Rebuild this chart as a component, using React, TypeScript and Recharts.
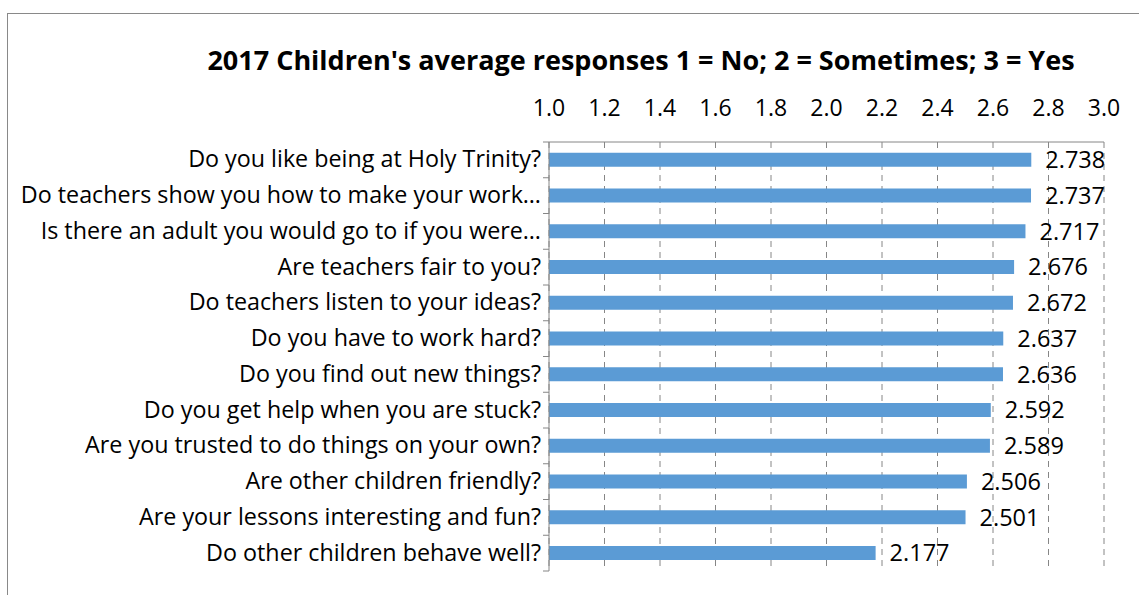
import React from 'react';
import { BarChart, Bar, XAxis, YAxis, CartesianGrid, LabelList } from 'recharts';

const questions = [
    'Do you like being at Holy Trinity?',
    'Do teachers show you how to make your work…',
    'Is there an adult you would go to if you were…',
    'Are teachers fair to you?',
    'Do teachers listen to your ideas?',
    'Do you have to work hard?',
    'Do you find out new things?',
    'Do you get help when you are stuck?',
    'Are you trusted to do things on your own?',
    'Are other children friendly?',
    'Are your lessons interesting and fun?',
    'Do other children behave well?',
];

const averages = [2.738, 2.737, 2.717, 2.676, 2.672, 2.637, 2.636, 2.592, 2.589, 2.506, 2.501, 2.177];

const xTicks = [1.0, 1.2, 1.4, 1.6, 1.8, 2.0, 2.2, 2.4, 2.6, 2.8, 3.0];

const data = questions.map((q, i) => ({ name: q, value: averages[i] }));

const FONT = '"Open Sans", sans-serif';
const AXIS_GREY = '#868686';

const W = 1139;
const H = 595;
const TOP = 142;
const BOTTOM = 571;
const band = (BOTTOM - TOP) / questions.length;

const CategoryTick = (props: any) => {
    const { x, y, payload, index } = props;
    const top = y - band / 2;
    return (
        <g>
            <line x1={x + 2} x2={x + 8} y1={top} y2={top} stroke={AXIS_GREY} />
            {index === questions.length - 1 && (
                <line x1={x + 2} x2={x + 8} y1={top + band} y2={top + band} stroke={AXIS_GREY} />
            )}
            <text x={x} y={y} dy={7.5} textAnchor="end" fill="#000" fontSize={23.3} fontFamily={FONT}>
                {payload.value}
            </text>
        </g>
    );
};

const App = () => {
    return (
        <div style={{ position: 'absolute', left: 0, top: 0, width: W, height: H, overflow: 'hidden', background: '#fff' }}>
            <div
                style={{
                    position: 'absolute',
                    left: 7,
                    top: 13,
                    width: 1300,
                    height: 700,
                    border: '1px solid #898989',
                }}
            />
            <div style={{ position: 'absolute', left: 0, top: 0 }}>
                <BarChart
                    width={W}
                    height={H}
                    data={data}
                    layout="vertical"
                    margin={{ top: TOP - 30, right: W - 1104, bottom: H - BOTTOM, left: 0 }}
                    barCategoryGap="30%"
                >
                    <text x={641} y={70} textAnchor="middle" fontSize={27} fontWeight="bold" fontFamily={FONT} fill="#000">
                        2017 Children's average responses 1 = No; 2 = Sometimes; 3 = Yes
                    </text>
                    <CartesianGrid horizontal={false} stroke={AXIS_GREY} strokeDasharray="6 5" />
                    <XAxis
                        type="number"
                        orientation="top"
                        domain={[1, 3]}
                        ticks={xTicks}
                        height={30}
                        tickFormatter={(v: number) => v.toFixed(1)}
                        tick={{ fontSize: 23, fill: '#000', fontFamily: FONT }}
                        tickLine={false}
                        tickMargin={20}
                        axisLine={{ stroke: AXIS_GREY }}
                        interval={0}
                    />
                    <YAxis
                        type="category"
                        dataKey="name"
                        width={549}
                        tick={<CategoryTick />}
                        tickLine={false}
                        axisLine={{ stroke: AXIS_GREY }}
                        interval={0}
                    />
                    <Bar dataKey="value" fill="#5B9BD5" isAnimationActive={false}>
                        <LabelList
                            dataKey="value"
                            position="right"
                            offset={14}
                            fill="#000"
                            fontSize={23.5}
                            fontFamily={FONT}
                            formatter={(v: number) => v.toFixed(3)}
                        />
                    </Bar>
                </BarChart>
            </div>
        </div>
    );
};

export default App;
